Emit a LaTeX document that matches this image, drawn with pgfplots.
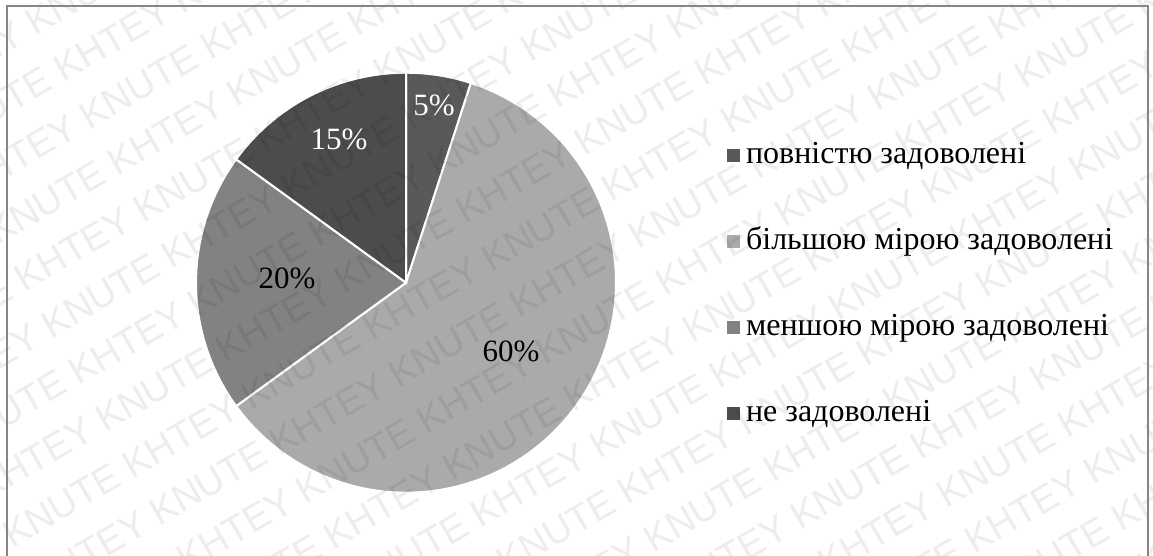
\documentclass[border=0pt]{standalone}
\usepackage{fontspec}
\setmainfont{Liberation Serif}
\newfontfamily\wmfont{Liberation Sans}
\usepackage{pgfplots}
\pgfplotsset{compat=1.18}
\definecolor{cA}{RGB}{89,89,89}
\definecolor{cB}{RGB}{170,170,170}
\definecolor{cC}{RGB}{130,130,130}
\definecolor{cD}{RGB}{76,76,76}
\definecolor{frame}{RGB}{134,134,134}
\begin{document}
\begin{tikzpicture}[x=1pt,y=1pt]
\useasboundingbox (0,0) rectangle (1153,556);
\fill[white] (0,0) rectangle (1153,556);
\begin{axis}[
  at={(406pt,273.3pt)}, anchor=center,
  scale only axis, width=420pt, height=420pt,
  xmin=-1, xmax=1, ymin=-1, ymax=1,
  hide axis, clip=false,
  legend cell align=left,
  legend style={at={(1.264,0.842)}, anchor=north west, draw=none, fill=none,
    inner sep=0pt, row sep=54pt, column sep=6pt,
    font=\fontsize{32}{37}\selectfont,
    nodes={inner sep=0pt, text height=24pt, text depth=8pt}},
  legend image code/.code={\fill[#1,draw=none] (0pt,-6.5pt) rectangle (13pt,6.5pt);},
]
% percentages: 5, 60, 20, 15 (start at 12 o'clock, clockwise; domain = cumulative %)
\addplot[fill=cA, draw=white, line width=2pt, domain=0:5, samples=10, variable=\t]
  ({cos(90-3.6*\t)},{sin(90-3.6*\t)}) -- (axis cs:0,0) -- cycle;
\addlegendentry{повністю задоволені}
\addplot[fill=cB, draw=white, line width=2pt, domain=5:65, samples=90, variable=\t]
  ({cos(90-3.6*\t)},{sin(90-3.6*\t)}) -- (axis cs:0,0) -- cycle;
\addlegendentry{більшою мірою задоволені}
\addplot[fill=cC, draw=white, line width=2pt, domain=65:85, samples=30, variable=\t]
  ({cos(90-3.6*\t)},{sin(90-3.6*\t)}) -- (axis cs:0,0) -- cycle;
\addlegendentry{меншою мірою задоволені}
\addplot[fill=cD, draw=white, line width=2pt, domain=85:100, samples=25, variable=\t]
  ({cos(90-3.6*\t)},{sin(90-3.6*\t)}) -- (axis cs:0,0) -- cycle;
\addlegendentry{не задоволені}
\node[text=white, font=\fontsize{31}{36}\selectfont] at (axis cs:0.133,0.846) {5\%};
\node[text=white, font=\fontsize{31}{36}\selectfont] at (axis cs:-0.319,0.684) {15\%};
\node[text=black, font=\fontsize{31}{36}\selectfont] at (axis cs:-0.567,0.022) {20\%};
\node[text=black, font=\fontsize{31}{36}\selectfont] at (axis cs:0.5,-0.325) {60\%};
\end{axis}
% watermark
\begin{scope}
\clip (0,0) rectangle (1153,556);
\foreach \i in {-12,...,10} {
  \pgfmathsetmacro\aa{-400-138*mod(\i+100,2)}
  \pgfmathsetmacro\px{-27*\i+0.866*\aa}
  \pgfmathsetmacro\py{46.77*\i+0.5*\aa}
  \node[rotate=30, anchor=base west, inner sep=0pt, text=black, text opacity=0.07,
        font=\wmfont\fontsize{38}{38}\selectfont] at (\px,\py)
        {KHTEY KNUTE KHTEY KNUTE KHTEY KNUTE KHTEY KNUTE KHTEY KNUTE KHTEY KNUTE KHTEY KNUTE KHTEY KNUTE};
}
\end{scope}
\draw[frame, line width=1.5pt] (7,-2) -- (7,550) -- (1148,550) -- (1148,-2);
\end{tikzpicture}
\end{document}
